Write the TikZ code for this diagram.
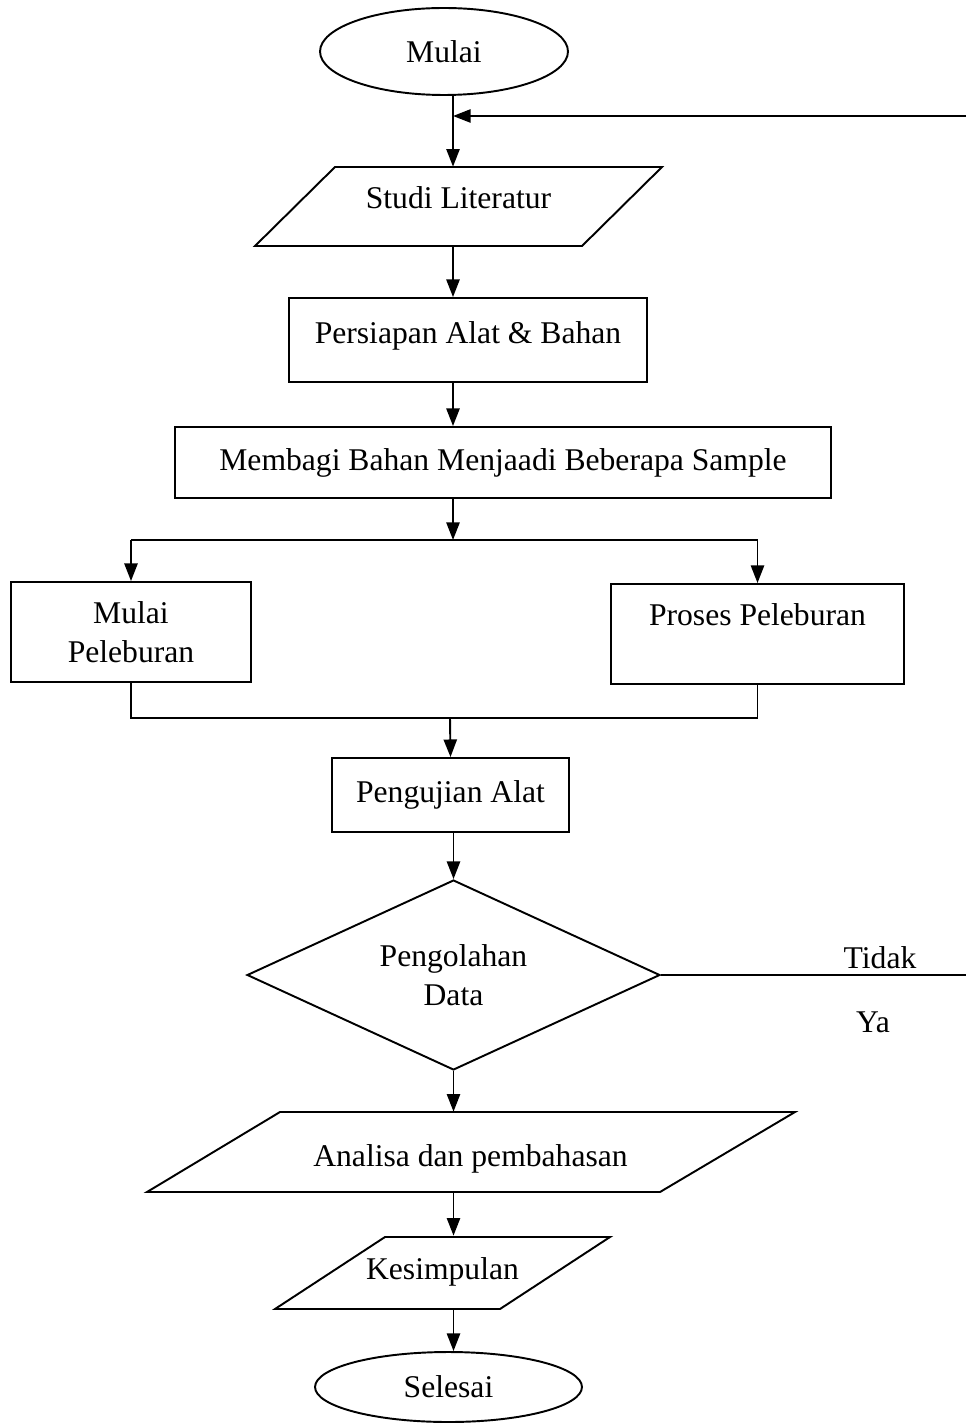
\documentclass[tikz,border=0pt]{standalone}
\usepackage{fontspec}
\setmainfont{Liberation Serif}
\usetikzlibrary{shapes.geometric,arrows.meta}
\begin{document}
\begin{tikzpicture}[x=0.02cm,y=-0.02cm,
  every node/.style={font=\fontsize{18}{22}\selectfont},
  ln/.style={line width=1.1pt},
  arr/.style={line width=1.1pt,-{Triangle[length=10pt,width=7.5pt]}},
  box/.style={draw,line width=1.1pt,inner sep=0pt,align=center},
  term/.style={draw,ellipse,line width=1.1pt,inner sep=0pt},
  io/.style={inner sep=0pt,align=center},
  dec/.style={draw,diamond,line width=1.1pt,inner sep=0pt,align=center,aspect=2.17},
  lbl/.style={inner sep=0pt}]
\useasboundingbox (0,0) rectangle (966,1425);

% nodes
\node[term,minimum width=4.96cm,minimum height=1.74cm] (mulai) at (444,51.5) {Mulai};
\node[io,minimum width=6.54cm,minimum height=1.58cm,
  label={[lbl,yshift=5pt]center:Studi Literatur}] (studi) at (458.5,206.5) {};
\draw[ln] (335,167) -- (662,167) -- (582,246) -- (255,246) -- cycle;
\node[box,minimum width=7.16cm,minimum height=1.68cm,
  label={[lbl,yshift=2.5pt]center:Persiapan Alat \& Bahan}] (persiapan) at (468,340) {};
\node[box,minimum width=13.12cm,minimum height=1.42cm] (membagi) at (503,462.5) {Membagi Bahan Menjaadi Beberapa Sample};
\node[box,minimum width=4.8cm,minimum height=2.0cm] (mulaip) at (131,632) {Mulai\\Peleburan};
\node[box,minimum width=5.86cm,minimum height=2.0cm] (proses) at (757.5,634) {Proses Peleburan\\~};
\node[box,minimum width=4.74cm,minimum height=1.48cm] (uji) at (450.5,795) {Pengujian Alat};
\node[dec,minimum width=8.26cm,minimum height=3.8cm] (olah) at (453.5,975) {Pengolahan\\Data};
\node[io,minimum width=7.7cm,minimum height=1.6cm,
  label={[lbl,yshift=-4pt]center:Analisa dan pembahasan}] (analisa) at (470.5,1152) {};
\draw[ln] (280,1112) -- (795,1112) -- (660,1192) -- (147,1192) -- cycle;
\node[io,minimum width=4.5cm,minimum height=1.44cm] (kes) at (442.5,1272) {Kesimpulan};
\draw[ln] (385,1237) -- (610,1237) -- (500,1309) -- (275,1309) -- cycle;
\node[term,minimum width=5.34cm,minimum height=1.4cm] (selesai) at (448.5,1387) {Selesai};

\node[lbl] (tidak) at (880,958) {Tidak};
\node[lbl] (ya) at (873,1022) {Ya};

% helper coordinates
\coordinate (fbtip) at (453,116);
\coordinate (fbtop) at (966,116);
\coordinate (fbbot) at (966,975);
\coordinate (split) at (453,540);
\coordinate (merge) at (450,718);

% connectors
\draw[arr] (mulai.south -| fbtip) -- (studi.north -| fbtip);
\draw[arr] (fbtop) -- (fbtip);
\draw[arr] (studi.south -| fbtip) -- (persiapan.north -| fbtip);
\draw[arr] (persiapan.south -| fbtip) -- (membagi.north -| fbtip);
\draw[arr] (membagi.south -| split) -- (split);
\draw[ln] (split -| mulaip.north) -- (split -| proses.north);
\draw[arr] (split -| mulaip.north) -- (mulaip.north);
\draw[arr] (split -| proses.north) -- (proses.north);
\draw[ln] (mulaip.south) -- (mulaip.south |- merge) -- (proses.south |- merge) -- (proses.south);
\draw[arr] (merge) -- (uji.north);
\draw[arr] (uji.south -| olah.north) -- (olah.north);
\draw[ln] (olah.east) -- (fbbot);
\draw[arr] (olah.south) -- (olah.south |- analisa.north);
\draw[arr] (olah.south |- analisa.south) -- (olah.south |- kes.north);
\draw[arr] (olah.south |- kes.south) -- (olah.south |- selesai.north);
\end{tikzpicture}
\end{document}
